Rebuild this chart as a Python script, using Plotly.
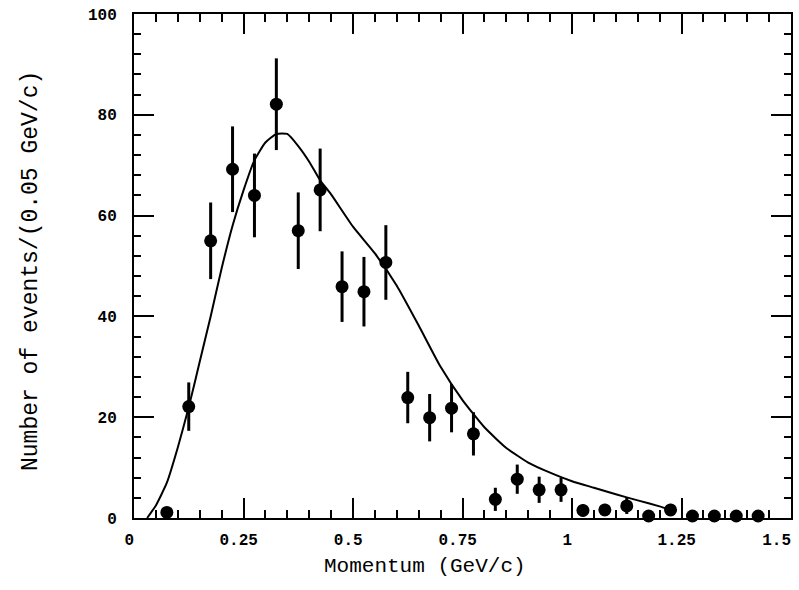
import plotly.graph_objects as go

# Measured momentum spectrum (bin centres, 0.05 GeV/c bins)
momentum = [0.075, 0.125, 0.175, 0.225, 0.275, 0.325, 0.375, 0.425, 0.475, 0.525,
            0.575, 0.625, 0.675, 0.725, 0.775, 0.825, 0.875, 0.925, 0.975, 1.025,
            1.075, 1.125, 1.175, 1.225, 1.275, 1.325, 1.375, 1.425]
events = [1.1, 22.1, 55.0, 69.2, 64.0, 82.1, 57.0, 65.1, 45.9, 44.9,
          50.7, 23.9, 19.9, 21.8, 16.7, 3.7, 7.7, 5.6, 5.6, 1.5,
          1.6, 2.4, 0.4, 1.6, 0.4, 0.4, 0.4, 0.4]
errors = [1.0, 4.8, 7.6, 8.5, 8.3, 9.1, 7.6, 8.2, 7.0, 6.9,
          7.4, 5.1, 4.7, 4.8, 4.3, 2.3, 2.9, 2.6, 2.4, 1.2,
          1.2, 1.6, 0.5, 1.2, 0.5, 0.5, 0.5, 0.5]

# Model prediction curve
curve_p = [0.03, 0.05, 0.075, 0.1, 0.125, 0.15, 0.175, 0.2, 0.225, 0.25,
           0.275, 0.3, 0.325, 0.35, 0.375, 0.4, 0.425, 0.45, 0.5, 0.55,
           0.6, 0.65, 0.7, 0.75, 0.8, 0.85, 0.9, 0.95, 1.0, 1.05,
           1.1, 1.15, 1.2, 1.225]
curve_n = [0.0, 2.5, 7.0, 14.0, 22.0, 31.0, 40.0, 49.5, 58.0, 65.0,
           71.0, 74.5, 76.2, 76.2, 73.8, 70.7, 67.0, 64.2, 57.8, 52.5,
           46.1, 38.2, 30.0, 23.4, 18.0, 13.9, 11.0, 9.0, 7.3, 6.0,
           4.7, 3.5, 2.3, 1.6]

x_ticks = [0, 0.25, 0.5, 0.75, 1, 1.25, 1.5]
x_tick_text = ["0", "0.25", "0.5", "0.75", "1", "1.25", "1.5"]
y_ticks = [0, 20, 40, 60, 80, 100]
x_range = [0, 1.5]
y_range = [0, 100]

fig = go.Figure()

fig.add_trace(go.Scatter(
    x=curve_p, y=curve_n, mode="lines",
    line=dict(color="black", width=2, shape="spline", smoothing=0.5),
    cliponaxis=False, showlegend=False, hoverinfo="skip",
))

fig.add_trace(go.Scatter(
    x=momentum, y=events, mode="markers",
    marker=dict(color="black", size=13),
    error_y=dict(type="data", array=errors, color="black", thickness=3, width=0),
    cliponaxis=False, showlegend=False,
))

# empty trace so the top/right tick axes are drawn
fig.add_trace(go.Scatter(x=[None], y=[None], xaxis="x2", yaxis="y2",
                         showlegend=False, hoverinfo="skip"))

tick_font = dict(family="Liberation Mono", size=16, color="black", weight="bold")
title_font = dict(family="Liberation Mono", color="black")

common = dict(showgrid=False, zeroline=False, showline=True, linecolor="black",
              linewidth=2, automargin=False,
              ticks="inside", ticklen=20, tickwidth=2, tickcolor="black")
x_minor = dict(dtick=0.05, ticks="inside", ticklen=8, tickwidth=2, tickcolor="black")
y_minor = dict(dtick=4, ticks="inside", ticklen=7, tickwidth=2, tickcolor="black")

# trailing no-break spaces nudge the x labels slightly left of their ticks,
# the last one a little more so it stays inside the page
x_labels = [t + "\u00a0" for t in x_tick_text]
x_labels[-1] = x_tick_text[-1] + "\u00a0" * 3

fig.update_layout(
    width=799, height=590,
    margin=dict(l=134, r=8, t=14, b=72),
    paper_bgcolor="white", plot_bgcolor="white",
    xaxis=dict(range=x_range, tickvals=x_ticks, ticktext=x_labels,
               tickfont=tick_font, ticklabelstandoff=6,
               ticklabeloverflow="allow", minor=x_minor, **common),
    yaxis=dict(range=y_range, tickvals=y_ticks,
               tickfont=tick_font, ticklabelstandoff=12,
               minor=y_minor, **common),
    xaxis2=dict(range=x_range, tickvals=x_ticks, overlaying="x", side="top",
                showticklabels=False, minor=x_minor, **common),
    yaxis2=dict(range=y_range, tickvals=y_ticks, overlaying="y", side="right",
                showticklabels=False, minor=y_minor, **common),
)

plot_l, plot_r, plot_t, plot_b = 134, 791, 14, 518
pw, ph = plot_r - plot_l, plot_b - plot_t

fig.add_annotation(
    text="Momentum (GeV/c)", xref="paper", yref="paper",
    x=(425 - plot_l) / pw, y=(plot_b - 566) / ph,
    xanchor="center", yanchor="middle", showarrow=False,
    font=dict(size=21, **title_font),
)
fig.add_annotation(
    text="Number of events/(0.05 GeV/c)", xref="paper", yref="paper",
    x=(31 - plot_l) / pw, y=(plot_b - 271) / ph, textangle=-90,
    xanchor="center", yanchor="middle", showarrow=False,
    font=dict(size=23, **title_font),
)

fig.write_html("out.html")
